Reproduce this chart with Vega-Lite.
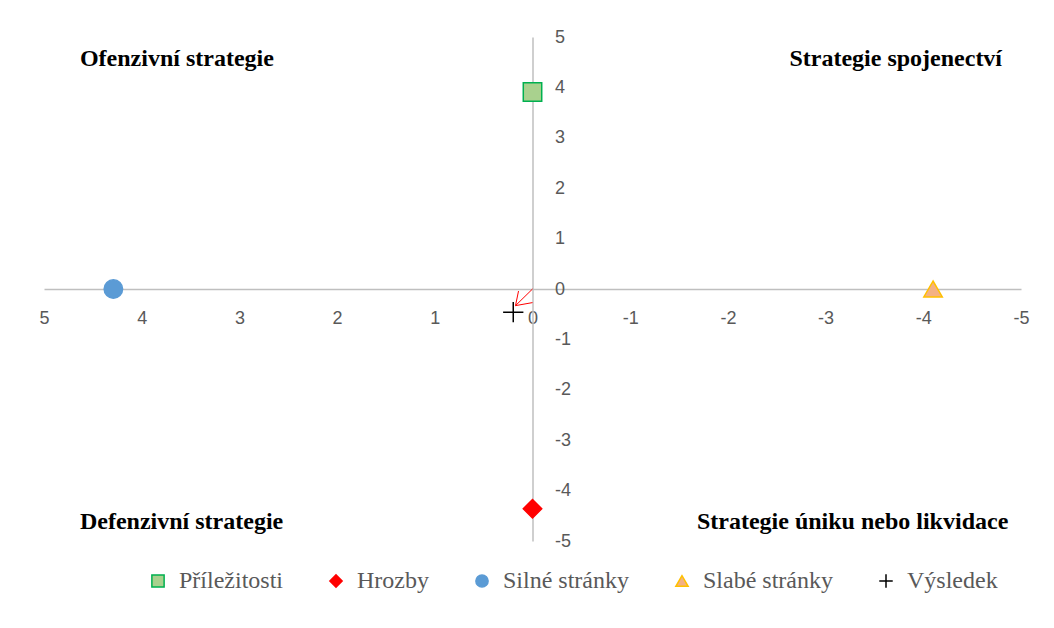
{
  "$schema": "https://vega.github.io/schema/vega-lite/v6.json",
  "width": 977,
  "height": 504,
  "autosize": {"type": "none"},
  "padding": {"left": 44, "top": 37, "right": 33, "bottom": 87},
  "background": "white",
  "config": {"view": {"stroke": null}, "font": "Liberation Sans"},
  "datasets": {
    "points": [
      {"series": "Příležitosti", "x": 0, "y": 3.91},
      {"series": "Hrozby", "x": 0, "y": -4.36},
      {"series": "Silné stránky", "x": 4.29, "y": 0},
      {"series": "Slabé stránky", "x": -4.1, "y": 0},
      {"series": "Výsledek", "x": 0.197, "y": -0.46}
    ],
    "arrow": [
      {"x": 0, "y": 0, "x2": 0.174, "y2": -0.33},
      {"x": 0.174, "y": -0.33, "x2": 0.143, "y2": -0.04},
      {"x": 0.174, "y": -0.33, "x2": 0, "y2": -0.27}
    ],
    "labels": [
      {"label": "Ofenzivní strategie", "side": "left", "x": 4.632, "y": 4.56},
      {"label": "Strategie spojenectví", "side": "right", "x": -4.806, "y": 4.56},
      {"label": "Defenzivní strategie", "side": "left", "x": 4.632, "y": -4.62},
      {"label": "Strategie úniku nebo likvidace", "side": "right", "x": -4.87, "y": -4.62}
    ]
  },
  "layer": [
    {
      "data": {"name": "arrow"},
      "mark": {"type": "rule", "color": "#ff0000", "strokeWidth": 1},
      "encoding": {
        "x": {"field": "x", "type": "quantitative",
          "scale": {"domain": [-5, 5], "reverse": true, "nice": false, "zero": false},
          "axis": {"orient": "bottom", "offset": -252, "title": null, "values": [-5,-4,-3,-2,-1,0,1,2,3,4,5],
            "labelExpr": "'' + datum.value",
            "grid": false, "ticks": false, "tickSize": 0, "domainColor": "#bfbfbf", "domainWidth": 1.5,
            "labelFont": "Liberation Sans", "labelFontSize": 18, "labelColor": "#595959", "labelPadding": 20,
            "labelFlush": false, "labelOverlap": false}},
        "y": {"field": "y", "type": "quantitative",
          "scale": {"domain": [-5, 5], "nice": false, "zero": false},
          "axis": {"orient": "right", "offset": -488.5, "title": null, "values": [-5,-4,-3,-2,-1,0,1,2,3,4,5],
            "labelExpr": "'' + datum.value",
            "grid": false, "ticks": false, "tickSize": 0, "domainColor": "#bfbfbf", "domainWidth": 1.5,
            "labelFont": "Liberation Sans", "labelFontSize": 18, "labelColor": "#595959", "labelPadding": 22,
            "labelFlush": false, "labelOverlap": false, "labelBaseline": "middle"}},
        "x2": {"field": "x2"},
        "y2": {"field": "y2"}
      }
    },
    {
      "data": {"name": "points"},
      "mark": {"type": "point", "filled": true, "strokeWidth": 1.5, "opacity": 1, "size": 340},
      "encoding": {
        "x": {"field": "x", "type": "quantitative"},
        "y": {"field": "y", "type": "quantitative"},
        "shape": {"field": "series", "type": "nominal", "title": null,
          "scale": {"domain": ["Příležitosti", "Hrozby", "Silné stránky", "Slabé stránky", "Výsledek"],
            "range": ["square", "diamond", "circle", "triangle-up", "M-1.1,0H1.1M0,-1.1V1.1"]}},
        "fill": {"field": "series", "type": "nominal", "title": null,
          "scale": {"domain": ["Příležitosti", "Hrozby", "Silné stránky", "Slabé stránky", "Výsledek"],
            "range": ["#a9d18e", "#ff0000", "#5b9bd5", "#f4b183", "transparent"]}},
        "stroke": {"field": "series", "type": "nominal", "title": null,
          "scale": {"domain": ["Příležitosti", "Hrozby", "Silné stránky", "Slabé stránky", "Výsledek"],
            "range": ["#00b050", "#ff0000", "#5b9bd5", "#ffc000", "#000000"]},
          "legend": {
            "orient": "none", "legendX": 102, "legendY": 532, "direction": "horizontal", "columns": 5,
            "padding": 0, "columnPadding": 41, "labelOffset": 9,
            "labelFont": "Liberation Serif", "labelFontSize": 24, "labelColor": "#595959",
            "symbolSize": 150, "symbolStrokeWidth": 1.5, "labelLimit": 300
          }}
      }
    },
    {
      "data": {"name": "labels"},
      "transform": [{"filter": "datum.side === 'left'"}],
      "mark": {"type": "text", "align": "left", "baseline": "middle", "font": "Liberation Serif",
        "fontSize": 24, "fontWeight": "bold", "color": "#000000"},
      "encoding": {
        "x": {"field": "x", "type": "quantitative"},
        "y": {"field": "y", "type": "quantitative"},
        "text": {"field": "label"}
      }
    },
    {
      "data": {"name": "labels"},
      "transform": [{"filter": "datum.side === 'right'"}],
      "mark": {"type": "text", "align": "right", "baseline": "middle", "font": "Liberation Serif",
        "fontSize": 24, "fontWeight": "bold", "color": "#000000"},
      "encoding": {
        "x": {"field": "x", "type": "quantitative"},
        "y": {"field": "y", "type": "quantitative"},
        "text": {"field": "label"}
      }
    }
  ]
}
